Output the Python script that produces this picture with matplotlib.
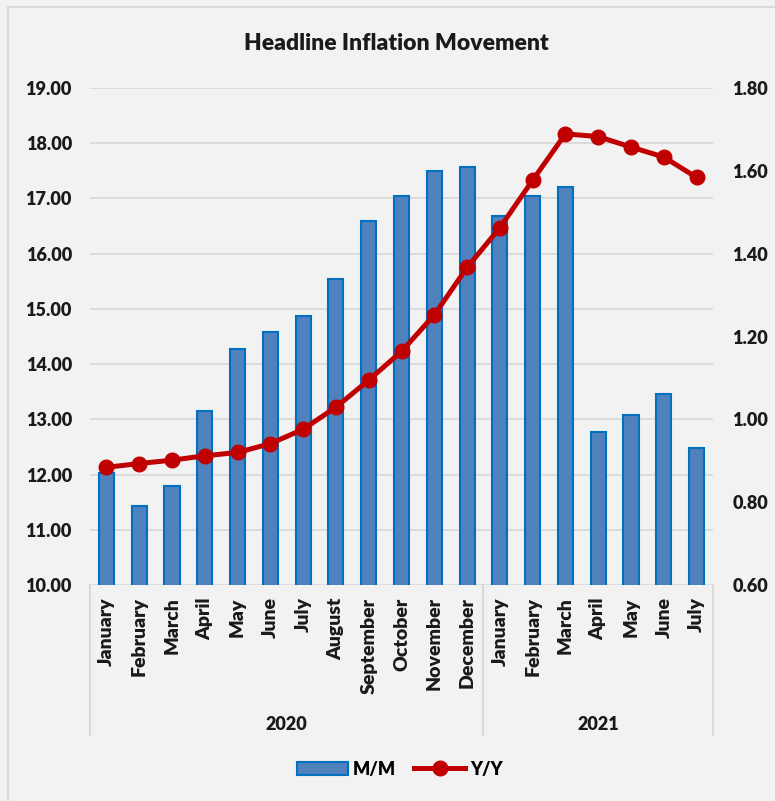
import matplotlib
matplotlib.use("Agg")
import matplotlib.pyplot as plt
from matplotlib.patches import Rectangle, Patch
from matplotlib.lines import Line2D

# ---- data ----
months = ["January", "February", "March", "April", "May", "June", "July",
          "August", "September", "October", "November", "December",
          "January", "February", "March", "April", "May", "June", "July"]
year_groups = ["2020", "2021"]
year_counts = [12, 7]
mm_values = [0.87, 0.79, 0.84, 1.02, 1.17, 1.21, 1.25, 1.34, 1.48, 1.54, 1.60, 1.61,
             1.49, 1.54, 1.56, 0.97, 1.01, 1.06, 0.93]
yy_values = [12.13, 12.20, 12.26, 12.34, 12.40, 12.56, 12.82, 13.22, 13.71, 14.23, 14.89, 15.75,
             16.47, 17.33, 18.17, 18.12, 17.93, 17.75, 17.38]
left_ticks = [10, 11, 12, 13, 14, 15, 16, 17, 18, 19]
right_ticks = [0.6, 0.8, 1.0, 1.2, 1.4, 1.6, 1.8]

plt.rcParams['font.family'] = ['Lato', 'DejaVu Sans']
W = 'heavy'

BG = '#f2f2f2'
GRID = '#d9d9d9'
BAR_FC = '#4f81bd'
BAR_EC = '#0070c0'
LINE_C = '#c00000'
TXT = '#1a1a1a'

fig = plt.figure(figsize=(7.75, 8.01), dpi=100, facecolor=BG)
fig.patches.append(Rectangle((8/775, -0.1), 1.2, 1.1 - 7/801, transform=fig.transFigure,
                             fill=False, edgecolor=GRID, lw=1.5, zorder=0))

ax = fig.add_axes([90/775, 1 - 585/801, (713 - 90)/775, (585 - 88)/801])
ax.set_facecolor('none')
n = len(months)
x = list(range(n))
ax.set_xlim(-0.5, n - 0.5)
ax.set_ylim(left_ticks[0], left_ticks[-1])
ax.set_yticks(left_ticks)
ax.set_yticklabels([f"{v:.2f}" for v in left_ticks], fontsize=13, color=TXT, fontweight=W)
ax.yaxis.grid(True, color=GRID, lw=1.3)
ax.set_axisbelow(True)
for s in ax.spines.values():
    s.set_visible(False)
ax.tick_params(axis='y', length=0, pad=13)
ax.set_xticks(x)
ax.set_xticklabels(months, rotation=90, fontsize=14, color=TXT, fontweight=W)
ax.tick_params(axis='x', length=0, pad=9)

# bars on secondary axis (right)
axb = ax.twinx()
axb.set_ylim(right_ticks[0], right_ticks[-1])
axb.set_yticks(right_ticks)
axb.set_yticklabels([f"{v:.2f}" for v in right_ticks], fontsize=13, color=TXT, fontweight=W)
axb.tick_params(axis='y', length=0, pad=14)
for s in axb.spines.values():
    s.set_visible(False)
axb.bar(x, mm_values, bottom=0, width=0.46, color=BAR_FC, edgecolor=BAR_EC, linewidth=1.5)
axb.set_ylim(right_ticks[0], right_ticks[-1])

# line on primary scale, drawn on top
axl = ax.twinx()
axl.set_ylim(left_ticks[0], left_ticks[-1])
axl.set_yticks([])
for s in axl.spines.values():
    s.set_visible(False)
axl.plot(x, yy_values, color=LINE_C, lw=3.6, marker='o', markersize=10.5,
         markerfacecolor=LINE_C, markeredgecolor=LINE_C, solid_capstyle='round')

# category-group separators and year labels
xt = ax.get_xaxis_transform()
bounds = [-0.5]
for c in year_counts:
    bounds.append(bounds[-1] + c)
for b in bounds:
    ax.plot([b, b], [0, -0.302], transform=xt, color=GRID, lw=1.5, clip_on=False)
for i, yr in enumerate(year_groups):
    center = (bounds[i] + bounds[i + 1]) / 2
    ax.text(center, -0.28, yr, transform=xt, ha='center', va='center',
            fontsize=13, color=TXT, fontweight=W)

fig.text(396/775, 1 - 43/801, "Headline Inflation Movement", ha='center', va='center',
         fontsize=16.5, color=TXT, fontweight=W)

handles = [Patch(facecolor=BAR_FC, edgecolor=BAR_EC, linewidth=1.5),
           Line2D([0], [0], color=LINE_C, lw=3.6, marker='o', markersize=10.5)]
fig.legend(handles, ["M/M", "Y/Y"], loc='center', bbox_to_anchor=(400/775, 1 - 769/801),
           ncol=2, frameon=False, handlelength=2.8, handletextpad=0.3,
           columnspacing=1.0, prop={'weight': W, 'size': 13})

fig.savefig("out.png", dpi=100, facecolor=BG)
